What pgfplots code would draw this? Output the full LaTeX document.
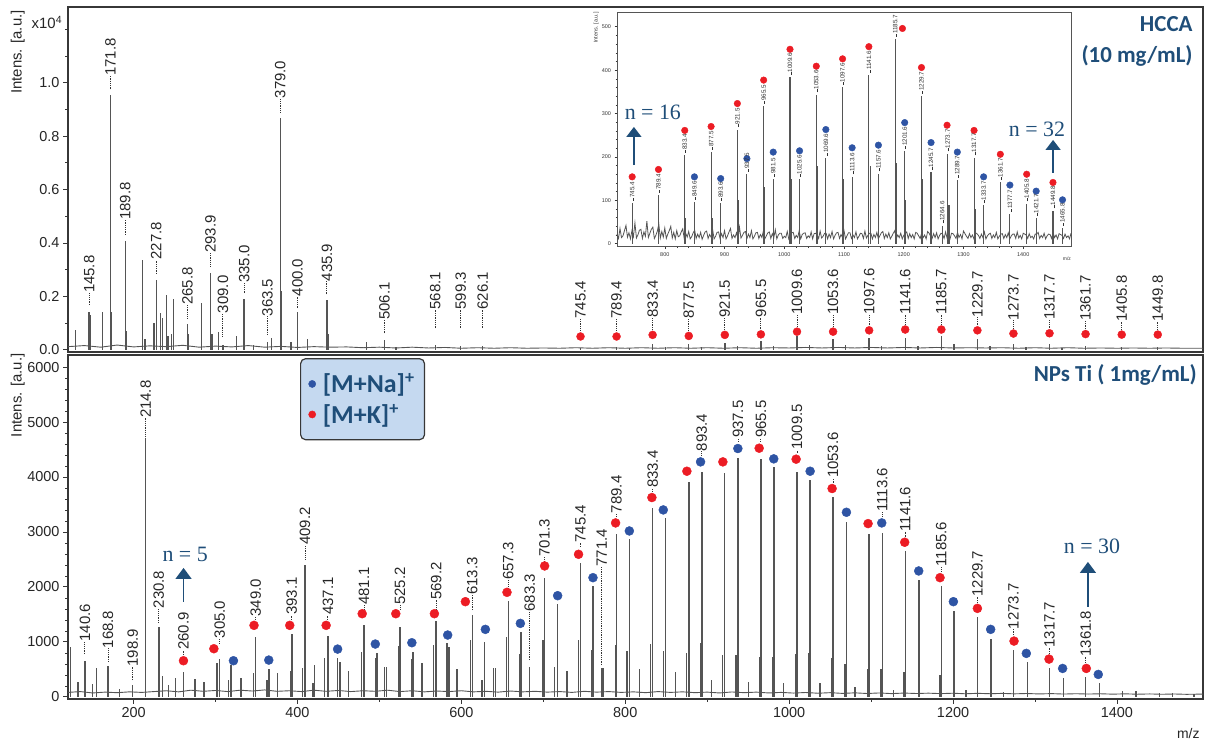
\documentclass[border=0pt]{standalone}
\usepackage{fontspec}
\setmainfont{Liberation Sans}
\newfontfamily\calfont{Carlito}
\newfontfamily\serfont{Liberation Serif}
\usepackage{pgfplots}
\usepackage{pgfplotstable}
\pgfplotsset{compat=1.18}
\usetikzlibrary{arrows.meta}

\definecolor{specgray}{RGB}{85,85,85}
\definecolor{kred}{RGB}{236,28,36}
\definecolor{nablue}{RGB}{46,84,164}
\definecolor{tblue}{RGB}{31,78,121}
\definecolor{legfill}{RGB}{197,217,240}
\definecolor{framegray}{RGB}{55,55,55}

\newcommand{\ldr}{\rule[0.32ex]{3bp}{0.4bp}}

\pgfplotsset{
  specaxis/.style={
    scale only axis, width=1135bp, xmin=120, xmax=1505, clip=false,
    axis line style={framegray, line width=1.2bp},
    tick align=outside, xtick pos=left, ytick pos=left,
    major tick length=5bp, minor tick length=3bp,
    every tick/.style={framegray, line width=0.8bp},
    every minor tick/.style={framegray, line width=0.6bp},
    tick label style={font=\fontsize{14.5}{16}\selectfont, text=black!85},
    /pgf/number format/assume math mode=true,
    /pgf/number format/1000 sep={},
    ylabel style={font=\fontsize{15}{16}\selectfont, text=black!85, anchor=south east, inner sep=0pt},
  },
  leaders/.style={forget plot, draw=none, mark=none,
    error bars/y dir=plus, error bars/y explicit, error bars/error mark=none,
    error bars/error bar style={draw=black!80, line width=0.8bp, dash pattern=on 0.8bp off 1bp}},
  peaklabels/.style={forget plot, draw=none, mark=none, point meta=explicit symbolic,
    nodes near coords, nodes near coords style={rotate=90, anchor=west, inner sep=0pt,
      font=\fontsize{15}{15}\selectfont, text=black!85}},
}

% ---------------- TOP PANEL (HCCA), intensities in 10^4 ----------------
\pgfplotstableread{
x y
129 0.075
145.8 0.143
147.5 0.13
161.8 0.143
171.8 0.954
173 0.14
189.8 0.409
191 0.07
211 0.337
214 0.04
225 0.10
227.8 0.262
233 0.137
235.5 0.12
240 0.206
242 0.05
246 0.06
248.5 0.19
265.8 0.097
267 0.06
283 0.175
293.9 0.289
295.5 0.06
303.7 0.065
309 0.02
325.6 0.05
335.0 0.19
346 0.02
363.5 0.03
368 0.045
379.0 0.867
380.5 0.22
392 0.03
400.0 0.14
412 0.04
435.9 0.187
438 0.06
484 0.03
506.1 0.035
520 0.012
568.1 0.02
599.3 0.015
626.1 0.015
745.4 0.008
789.4 0.01
805 0.008
833.4 0.022
849 0.01
877.5 0.022
893 0.012
921.5 0.027
937 0.013
965.5 0.033
981 0.013
1009.6 0.05
1025 0.018
1053.6 0.04
1069 0.018
1097.6 0.043
1113 0.014
1141.6 0.045
1157 0.014
1185.7 0.05
1201 0.022
1229.7 0.04
1245 0.014
1273.7 0.022
1289 0.01
1317.7 0.022
1333 0.008
1361.7 0.016
1405.8 0.011
1449.8 0.01
}\toppeaks

\pgfplotstableread{
x y
120 0.012
140 0.016
160 0.010
180 0.018
200 0.011
220 0.015
240 0.012
260 0.017
280 0.010
300 0.014
320 0.011
340 0.016
360 0.010
380 0.013
400 0.009
420 0.012
440 0.010
460 0.011
480 0.008
500 0.010
520 0.007
540 0.010
560 0.007
580 0.009
600 0.006
620 0.008
640 0.006
660 0.008
680 0.006
700 0.007
720 0.006
740 0.008
760 0.006
780 0.008
800 0.006
820 0.008
840 0.006
860 0.008
880 0.006
900 0.008
920 0.006
940 0.008
960 0.006
980 0.008
1000 0.007
1020 0.009
1040 0.007
1060 0.009
1080 0.007
1100 0.009
1120 0.007
1140 0.009
1160 0.007
1180 0.009
1200 0.007
1220 0.008
1240 0.007
1260 0.008
1280 0.006
1300 0.008
1320 0.006
1340 0.008
1360 0.006
1380 0.007
1400 0.006
1420 0.007
1440 0.006
1460 0.007
1480 0.006
1505 0.006
}\topbase

\pgfplotstableread{
x y
745.4 0.050
789.4 0.050
833.4 0.056
877.5 0.052
921.5 0.056
965.5 0.058
1009.6 0.068
1053.6 0.068
1097.6 0.073
1141.6 0.076
1185.7 0.076
1229.7 0.073
1273.7 0.061
1317.7 0.062
1361.7 0.059
1405.8 0.057
1449.8 0.057
}\topK

\pgfplotstableread{
x y l lab
145.8 0.168 0.044 145.8
171.8 0.975 0.050 171.8
189.8 0.430 0.056 189.8
227.8 0.284 0.053 227.8
265.8 0.118 0.050 265.8
293.9 0.312 0.050 293.9
309.0 0.050 0.087 309.0
335.0 0.212 0.038 335.0
363.5 0.056 0.069 363.5
379.0 0.888 0.053 379.0
400.0 0.156 0.044 400.0
435.9 0.208 0.048 435.9
506.1 0.062 0.050 506.1
568.1 0.081 0.069 568.1
599.3 0.081 0.069 599.3
626.1 0.081 0.069 626.1
745.4 0.072 0.045 745.4
789.4 0.072 0.045 789.4
833.4 0.075 0.045 833.4
877.5 0.072 0.045 877.5
921.5 0.075 0.045 921.5
965.5 0.077 0.045 965.5
1009.6 0.087 0.043 1009.6
1053.6 0.087 0.043 1053.6
1097.6 0.092 0.040 1097.6
1141.6 0.095 0.038 1141.6
1185.7 0.095 0.038 1185.7
1229.7 0.092 0.030 1229.7
1273.7 0.080 0.030 1273.7
1317.7 0.081 0.030 1317.7
1361.7 0.078 0.030 1361.7
1405.8 0.076 0.030 1405.8
1449.8 0.076 0.030 1449.8
}\toplab

% ---------------- INSET ----------------
\pgfplotstableread{
x y
745.4 93
789.4 112
833.4 204
835.4 60
849.6 96
877.5 211
879.5 60
893.6 93
921.5 263
923.5 100
937.5 160
965.5 317
967.5 130
981.5 149
1009.6 383
1011.6 150
1025.6 148
1053.6 343
1055.6 180
1069.6 197
1097.6 360
1099.6 150
1113.6 154
1141.6 389
1143.6 180
1157.6 161
1185.7 471
1187.7 185
1201.6 213
1203.6 100
1229.7 340
1231.7 150
1245.7 164
1264.6 41
1273.7 207
1275.7 90
1289.7 146
1317.7 198
1319.7 80
1333.7 88
1361.7 141
1377.7 68
1405.8 92
1421.7 58
1449.8 76
1465.8 36
}\inpeaks

\pgfplotstableread{
x y
720 22
722.5 12
725 35
727.5 14
730 18
732.5 30
735 42
737.5 15
740 25
742.5 11
745 30
747.5 16
750 48
752.5 13
755 20
757.5 31
760 33
762.5 12
765 27
767.5 17
770 52
772.5 14
775 24
777.5 33
780 38
782.5 12
785 19
787.5 29
790 45
792.5 13
795 28
797.5 15
800 36
802.5 12
805 22
807.5 30
810 40
812.5 13
815 26
817.5 11
820 30
822.5 16
825 18
827.5 27
830 34
832.5 12
835 24
837.5 15
840 28
842.5 11
845 16
847.5 25
850 31
852.5 12
855 22
857.5 14
860 26
862.5 10
865 19
867.5 27
870 29
872.5 12
875 21
877.5 15
880 33
882.5 11
885 17
887.5 26
890 27
892.5 12
895 23
897.5 14
900 30
902.5 11
905 18
907.5 27
910 35
912.5 12
915 20
917.5 14
920 25
922.5 11
925 38
927.5 13
930 19
932.5 26
935 28
937.5 12
940 22
942.5 14
945 30
947.5 11
950 17
952.5 25
955 26
957.5 12
960 21
962.5 14
965 29
967.5 11
970 18
972.5 25
975 27
977.5 12
980 23
982.5 14
985 32
987.5 11
990 20
992.5 24
995 24
997.5 12
1000 17
1002.5 14
1005 28
1007.5 11
1010 22
1012.5 25
1015 26
1017.5 12
1020 19
1022.5 14
1025 30
1027.5 11
1030 21
1032.5 24
1035 25
1037.5 12
1040 18
1042.5 14
1045 27
1047.5 11
1050 23
1052.5 24
1055 20
1057.5 12
1060 29
1062.5 13
1065 17
1067.5 24
1070 24
1072.5 11
1075 22
1077.5 14
1080 28
1082.5 11
1085 19
1087.5 25
1090 26
1092.5 12
1095 21
1097.5 14
1100 30
1102.5 11
1105 18
1107.5 25
1110 25
1112.5 12
1115 20
1117.5 14
1120 27
1122.5 11
1125 17
1127.5 24
1130 23
1132.5 12
1135 29
1137.5 13
1140 19
1142.5 24
1145 24
1147.5 11
1150 21
1152.5 14
1155 26
1157.5 11
1160 18
1162.5 25
1165 28
1167.5 12
1170 22
1172.5 14
1175 25
1177.5 11
1180 17
1182.5 24
1185 30
1187.5 12
1190 20
1192.5 14
1195 24
1197.5 11
1200 19
1202.5 24
1205 27
1207.5 12
1210 23
1212.5 14
1215 21
1217.5 11
1220 26
1222.5 24
1225 18
1227.5 12
1230 24
1232.5 14
1235 20
1237.5 11
1240 28
1242.5 24
1245 17
1247.5 12
1250 23
1252.5 14
1255 25
1257.5 11
1260 19
1262.5 24
1265 22
1267.5 12
1270 27
1272.5 13
1275 20
1277.5 11
1280 24
1282.5 23
1285 18
1287.5 12
1290 26
1292.5 14
1295 21
1297.5 11
1300 29
1302.5 23
1305 17
1307.5 12
1310 23
1312.5 14
1315 20
1317.5 11
1320 25
1322.5 23
1325 19
1327.5 12
1330 22
1332.5 14
1335 27
1337.5 11
1340 18
1342.5 22
1345 24
1347.5 12
1350 20
1352.5 14
1355 26
1357.5 11
1360 17
1362.5 22
1365 23
1367.5 12
1370 21
1372.5 14
1375 25
1377.5 11
1380 18
1382.5 22
1385 22
1387.5 12
1390 27
1392.5 13
1395 19
1397.5 11
1400 24
1402.5 22
1405 20
1407.5 12
1410 23
1412.5 14
1415 17
1417.5 11
1420 22
1422.5 22
1425 26
1427.5 12
1430 19
1432.5 14
1435 24
1437.5 11
1440 18
1442.5 22
1445 21
1447.5 12
1450 25
1452.5 14
1455 20
1457.5 11
1460 23
1462.5 21
1465 19
1467.5 12
1470 22
1472.5 14
1475 18
1477.5 11
1480 24
}\innoise

\pgfplotstableread{
x y
745.4 154
789.4 171
833.4 261
877.5 270
921.5 323
965.5 377
1009.6 448
1053.6 409
1097.6 426
1141.6 454
1197.8 496
1229.7 406
1272.5 273
1317.7 261
1361.7 206
1405.8 160
1449.8 141
}\inK

\pgfplotstableread{
x y
849.6 154
893.6 150
937.5 196
981.5 211
1025.6 214
1069.6 263
1113.6 221
1157.6 227
1201.6 279
1245.7 233
1289.7 211
1333.7 154
1377.7 135
1421.7 121
1465.8 101
}\inNa

\pgfplotstableread{
x y lab
745.4 98 745.4
789.4 117 789.4
833.4 209 833.4
849.6 101 849.6
877.5 216 877.5
893.6 98 893.6
921.5 268 921.5
937.5 165 937.5
965.5 322 965.5
981.5 154 981.5
1009.6 388 1009.6
1025.6 153 1025.6
1053.6 348 1053.6
1069.6 202 1069.6
1097.6 365 1097.6
1113.6 159 1113.6
1141.6 394 1141.6
1157.6 166 1157.6
1185.7 476 1185.7
1201.6 218 1201.6
1229.7 345 1229.7
1245.7 169 1245.7
1264.6 46 1264.6
1273.7 212 1273.7
1289.7 151 1289.7
1317.7 203 1317.7
1333.7 93 1333.7
1361.7 146 1361.7
1377.7 73 1377.7
1405.8 97 1405.8
1421.7 63 1421.7
1449.8 81 1449.8
1465.8 41 1465.8
}\inlab

% ---------------- BOTTOM PANEL (NPs Ti) ----------------
\pgfplotstableread{
x y
123 911
132 273
140.6 650
150 240
155 528
168.8 560
183 150
198.9 212
214.8 4707
230.8 1275
235 376
243 212
251 334
260.9 455
275 322
286 273
302 607
305.0 680
316 304
319 577
331 334
346 425
349.0 1081
363 304
365.5 498
376 437
392 468
393.1 1142
406 516
409.2 2399
419 243
421 577
433 698
437.1 1105
449 698
452 638
462 474
478 820
481.1 1306
495 698
497 802
506 547
509 547
523 923
525.2 1263
539 680
541 820
552 607
566 941
569.2 1385
582.5 972
585 900
594.7 504
611 1032
613.3 1488
625 304
628 1002
639 516
641.5 516
655 1081
657.3 1749
671 777
673 1184
683.3 547
699.6 1032
701.3 2168
713.4 547
717.5 1688
729 468
743 1032
745.4 2429
758.5 850
760.6 2016
771.4 516
773.6 516
787.8 941
789.4 2964
802 832
805 2866
817.5 498
830.5 953
833.4 3437
846.7 832
849 3249
861 455
875 790
877.6 3917
892 972
893.4 4093
905.6 304
919 759
921 4069
935 759
937.5 4354
950.4 273
963.8 729
965.5 4330
966.6 2277
979.7 729
981.7 4190
993 243
1008 777
1009.5 4087
1024 800
1025.6 3947
1037.8 243
1051.8 700
1053.6 3644
1068.3 600
1070.3 3182
1080.5 182
1095.8 500
1097.5 2964
1112 500
1113.6 2988
1127.2 121
1140 450
1141.6 2654
1158.5 2126
1184 400
1185.6 2022
1201.2 1561
1216 121
1229.7 1458
1246.3 1051
1261.4 91
1273.7 850
1291 626
1317.7 516
1334.5 334
1361.8 352
1378.4 243
1406.9 109
1423 109
1451.6 73
1468 73
1494 50
}\botpeaks

\pgfplotstableread{
x y
120 80
135 95
150 70
165 85
180 75
195 90
210 80
225 95
240 110
255 90
270 120
285 100
300 115
315 95
330 120
345 105
360 125
375 100
390 110
405 95
420 120
435 100
450 115
465 95
480 110
495 100
510 120
525 95
540 110
555 90
570 105
585 95
600 110
615 90
630 100
645 85
660 105
675 90
690 100
705 85
720 95
735 80
750 100
765 85
780 95
795 80
810 90
825 75
840 95
855 80
870 90
885 75
900 85
915 70
930 88
945 75
960 85
975 70
990 80
1005 68
1020 78
1035 65
1050 75
1065 62
1080 72
1095 60
1110 70
1125 58
1140 68
1155 60
1170 66
1185 58
1200 65
1215 55
1230 63
1245 56
1260 62
1275 54
1290 60
1305 52
1320 58
1335 50
1350 56
1365 50
1380 55
1395 48
1410 54
1425 47
1440 52
1455 46
1470 51
1485 45
1505 49
}\botbase

\pgfplotstableread{
x y
321.9 656
365 668
449 868
495 960
539.6 984
583.3 1124
629.3 1227
672 1336
717.5 1840
760.6 2168
805 3018
846.4 3401
891.9 4275
937.4 4518
981.2 4330
1025.6 4105
1069.9 3358
1113 3164
1158.1 2290
1200.4 1731
1245.9 1227
1289.4 790
1333.7 516
1377.2 407
}\botNa

\pgfplotstableread{
x y
260.9 656
298 875
347 1300
390.6 1300
435 1300
479 1512
520 1512
567.1 1512
604.9 1731
655.7 1901
701.6 2381
743 2593
788.2 3164
832.5 3626
875.2 4105
919.1 4275
963.4 4524
1008.5 4324
1052.4 3790
1096.3 3152
1141.0 2812
1184.1 2168
1229.7 1609
1274.4 1014
1317.1 686
1362.6 516
}\botK

\pgfplotstableread{
x y l lab
140.6 777 225 140.6
168.8 638 243 168.8
198.9 304 243 198.9
214.8 4737 334 214.8
230.8 1348 261 230.8
260.9 759 91 260.9
305.0 972 91 305.0
349.0 1397 61 349.0
393.1 1397 91 393.1
409.2 2502 261 409.2
437.1 1397 91 437.1
481.1 1591 79 481.1
525.2 1591 79 525.2
569.2 1591 170 569.2
613.3 1579 273 613.3
657.3 1974 151 657.3
683.3 668 881 683.3
701.3 2460 91 701.3
745.4 2733 73 745.4
771.4 577 1791 771.4
789.4 3279 61 789.4
833.4 3735 61 833.4
893.4 4385 79 893.4
937.5 4646 61 937.5
965.5 4646 61 965.5
1009.5 4433 61 1009.5
1053.6 3887 91 1053.6
1113.6 3279 91 1113.6
1141.6 2903 103 1141.6
1185.6 2277 91 1185.6
1229.7 1719 103 1229.7
1273.7 1124 103 1273.7
1317.7 789 104 1317.7
1361.8 619 110 1361.8
}\botlab

\begin{document}
\begin{tikzpicture}[x=1bp,y=1bp]
\path[use as bounding box] (0,0) rectangle (1207,742);

% ===== top axis =====
\begin{axis}[specaxis, at={(68bp,390bp)}, anchor=south west, height=345bp,
  ymin=-0.008, ymax=1.283, xtick=\empty,
  ytick={0,0.2,0.4,0.6,0.8,1.0}, yticklabels={0.0,0.2,0.4,0.6,0.8,1.0},
  minor ytick={0.1,0.3,0.5,0.7,0.9,1.1,1.2},
  ylabel={Intens. [a.u.]},
  ylabel style={at={(axis description cs:-0.038,0.991)}},
]
\addplot[forget plot, ycomb, specgray, line width=1.4bp, mark=none] table {\toppeaks};
\addplot[forget plot, specgray, line width=0.9bp, mark=none] table {\topbase};
\addplot[forget plot, only marks, mark=*, mark size=4bp, mark options={draw=kred, fill=kred}] table {\topK};
\addplot[leaders] table[x=x, y=y, y error=l] {\toplab};
\addplot[peaklabels] table[x=x, y expr=\thisrow{y}+\thisrow{l}, meta=lab] {\toplab};
\node[anchor=east, inner sep=0pt, font=\fontsize{15}{15}\selectfont, text=black!85]
  at (axis description cs:-0.005,0.955) {x10\textsuperscript{4}};
\node[anchor=north east, align=right, inner sep=0pt, text=tblue,
  font=\calfont\bfseries\fontsize{23}{31}\selectfont]
  at (axis description cs:0.991,0.974) {HCCA\\(10 mg/mL)};
\end{axis}

% ===== inset axis =====
\begin{axis}[at={(617bp,495.3bp)}, anchor=south west, scale only axis,
  width=454bp, height=234.7bp, xmin=720, xmax=1480, ymin=-7, ymax=534, clip=false,
  axis background/.style={fill=white},
  axis line style={framegray!85, line width=0.9bp},
  tick align=outside, xtick pos=left, ytick pos=left,
  major tick length=2.5bp, minor tick length=1.5bp,
  every tick/.style={framegray, line width=0.5bp},
  every minor tick/.style={framegray, line width=0.4bp},
  xtick={800,900,...,1400}, minor x tick num=4,
  ytick={0,100,...,500}, minor y tick num=4,
  tick label style={font=\fontsize{5.5}{6}\selectfont, text=black!80},
  /pgf/number format/assume math mode=true,
  /pgf/number format/1000 sep={},
  ylabel={Intens. [a.u.]},
  ylabel style={at={(axis description cs:-0.04,1.0)}, anchor=south east, inner sep=0pt,
    font=\fontsize{5.5}{6}\selectfont, text=black!80},
  xlabel={m/z},
  xlabel style={at={(axis description cs:0.991,-0.052)}, anchor=center, inner sep=0pt,
    font=\fontsize{5}{6}\selectfont, text=black!80},
]
\addplot[forget plot, specgray, line width=0.8bp, mark=none] table {\innoise};
\addplot[forget plot, ycomb, specgray, line width=1.1bp, mark=none] table {\inpeaks};
\addplot[forget plot, only marks, mark=*, mark size=3.3bp, mark options={draw=kred, fill=kred}] table {\inK};
\addplot[forget plot, only marks, mark=*, mark size=3.3bp, mark options={draw=nablue, fill=nablue}] table {\inNa};
\addplot[forget plot, draw=none, mark=none, point meta=explicit symbolic,
  nodes near coords={\ldr\pgfplotspointmeta},
  nodes near coords style={rotate=90, anchor=west, inner sep=0pt,
    font=\fontsize{6.3}{6.3}\selectfont, text=black!80}]
  table[x=x, y=y, meta=lab] {\inlab};
\draw[tblue, line width=1.4bp, -{Triangle[width=15bp,length=10bp]}]
  (axis cs:748.3,181) -- (axis cs:748.3,269);
\node[text=tblue, font=\serfont\fontsize{22}{22}\selectfont] at (axis cs:780,303) {n = 16};
\draw[tblue, line width=1.4bp, -{Triangle[width=15bp,length=10bp]}]
  (axis cs:1450,163) -- (axis cs:1450,239);
\node[text=tblue, font=\serfont\fontsize{22}{22}\selectfont] at (axis cs:1423,264) {n = 32};
\end{axis}

% ===== bottom axis =====
\begin{axis}[specaxis, at={(68bp,43bp)}, anchor=south west, height=344bp,
  ymin=-40, ymax=6220,
  xtick={200,400,...,1400}, minor x tick num=1,
  ytick={0,1000,...,6000}, minor y tick num=4,
  ylabel={Intens. [a.u.]},
  ylabel style={at={(axis description cs:-0.038,1.005)}},
  xlabel={m/z},
  xlabel style={at={(axis description cs:0.987,-0.085)}, anchor=north, inner sep=0pt,
    font=\fontsize{14}{15}\selectfont, text=black!85},
  legend style={at={(axis description cs:0.2044,0.991)}, anchor=north west,
    fill=legfill, draw=framegray, line width=1.2bp, rounded corners=5bp,
    font=\calfont\bfseries\fontsize{26}{30}\selectfont, text=tblue,
    inner xsep=8bp, inner ysep=13bp, row sep=6bp,
    /tikz/every odd column/.append style={column sep=5bp}},
  legend cell align=left,
]
\addplot[forget plot, ycomb, specgray, line width=1.4bp, mark=none] table {\botpeaks};
\addplot[forget plot, specgray, line width=0.9bp, mark=none] table {\botbase};
\addplot[only marks, mark=*, mark size=4.5bp, mark options={draw=nablue, fill=nablue},
  legend image post style={mark size=3.6bp, line width=0.4bp}] table {\botNa};
\addlegendentry{[M+Na]\textsuperscript{+}}
\addplot[only marks, mark=*, mark size=4.5bp, mark options={draw=kred, fill=kred},
  legend image post style={mark size=3.6bp, line width=0.4bp}] table {\botK};
\addlegendentry{[M+K]\textsuperscript{+}}
\addplot[leaders] table[x=x, y=y, y error=l] {\botlab};
\addplot[peaklabels] table[x=x, y expr=\thisrow{y}+\thisrow{l}, meta=lab] {\botlab};
\draw[tblue, line width=1.5bp, -{Triangle[width=16bp,length=11bp]}]
  (axis cs:261,1727) -- (axis cs:261,2345);
\node[text=tblue, font=\serfont\fontsize{22}{22}\selectfont] at (axis cs:263,2582) {n = 5};
\draw[tblue, line width=1.5bp, -{Triangle[width=16bp,length=11bp]}]
  (axis cs:1364.6,1636) -- (axis cs:1364.6,2454);
\node[text=tblue, font=\serfont\fontsize{22}{22}\selectfont] at (axis cs:1369.5,2745) {n = 30};
\node[anchor=east, inner sep=0pt, text=tblue, font=\calfont\bfseries\fontsize{23}{26}\selectfont]
  at (axis description cs:0.9947,0.942) {NPs Ti ( 1mg/mL)};
\end{axis}
\end{tikzpicture}
\end{document}
